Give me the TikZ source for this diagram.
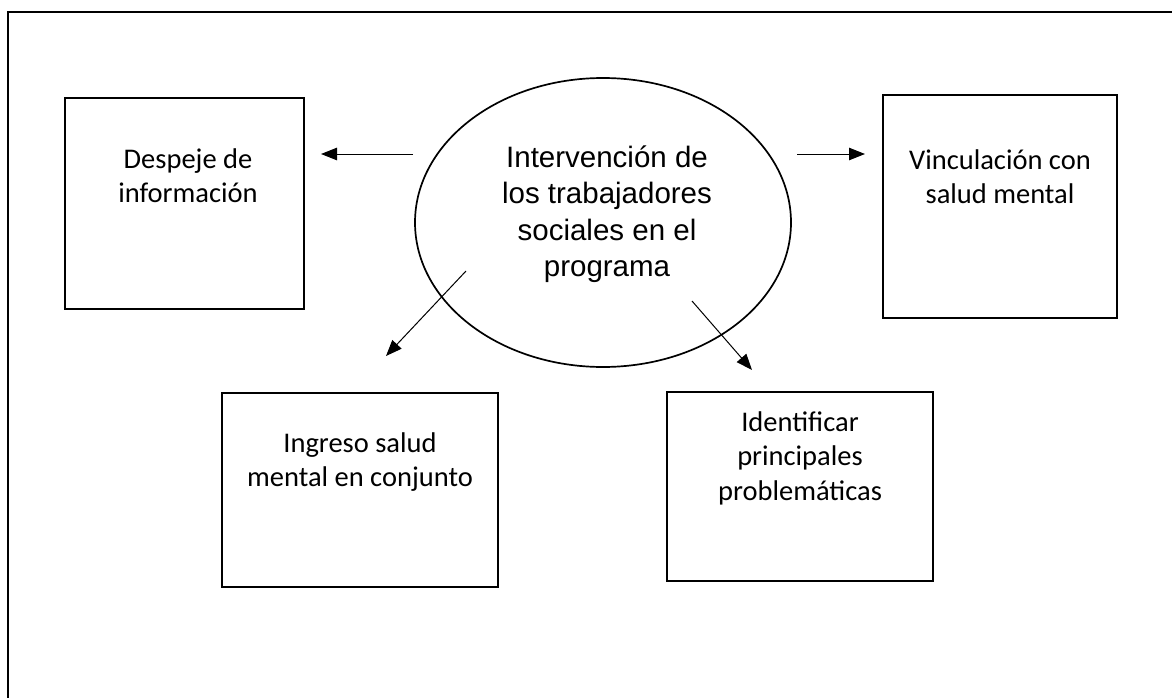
\documentclass[tikz,border=0pt]{standalone}
\usepackage{fontspec}
\setmainfont{Carlito}
\newfontfamily\arialf{Liberation Sans}
\usetikzlibrary{arrows.meta,shapes.geometric}
\begin{document}
\begin{tikzpicture}[x=1pt,y=-1pt,
  box/.style={draw, line width=1.8pt, inner sep=0pt, rectangle},
  oval/.style={draw, line width=1.7pt, inner sep=0pt, ellipse},
  txt/.style={inner sep=0pt, align=center, anchor=north, font=\fontsize{28.5}{34.5}\selectfont},
  ovaltxt/.style={inner sep=0pt, align=center, anchor=north, font=\arialf\fontsize{29.5}{36.5}\selectfont},
  arr/.style={line width=1pt, -{Triangle[length=16pt,width=12.5pt]}},
  frame/.style={line width=2pt}]
\useasboundingbox (0,0) rectangle (1172,698);
% outer frame
\draw[frame] (1172,12) -- (8,12) -- (8,698);
% central ellipse
\node[oval, minimum width=376pt, minimum height=289pt] (centro) at (603,222.5) {};
\node[ovaltxt] (centrot) at (607,141.45) {\strut Intervención de\\los trabajadores\\sociales en el\\programa};
% boxes
\node[box, minimum width=239pt, minimum height=211pt] (despeje) at (184.5,203.5) {};
\node[txt] (despejet) at (188,143.85) {\strut Despeje de\\información};
\node[box, minimum width=234pt, minimum height=223pt] (vinc) at (1000,206.5) {};
\node[txt] (vinct) at (1000,144.85) {\strut Vinculación con\\salud mental};
\node[box, minimum width=276pt, minimum height=194pt] (ingreso) at (360,490) {};
\node[txt] (ingresot) at (360,427.85) {\strut Ingreso salud\\mental en conjunto};
\node[box, minimum width=266pt, minimum height=189pt] (ident) at (800,486.5) {};
\node[txt] (identt) at (800,406.85) {\strut Identificar\\principales\\problemáticas};
% arrow ends
\coordinate (a1s) at (413,154);
\coordinate (a1e) at (321,154);
\coordinate (a2s) at (797,154);
\coordinate (a2e) at (865,154);
\coordinate (a3s) at (466,271);
\coordinate (a3e) at (386,356);
\coordinate (a4s) at (692,301);
\coordinate (a4e) at (752,370);
\draw[arr] (a1s) -- (a1e);
\draw[arr] (a2s) -- (a2e);
\draw[arr] (a3s) -- (a3e);
\draw[arr] (a4s) -- (a4e);
\end{tikzpicture}
\end{document}
